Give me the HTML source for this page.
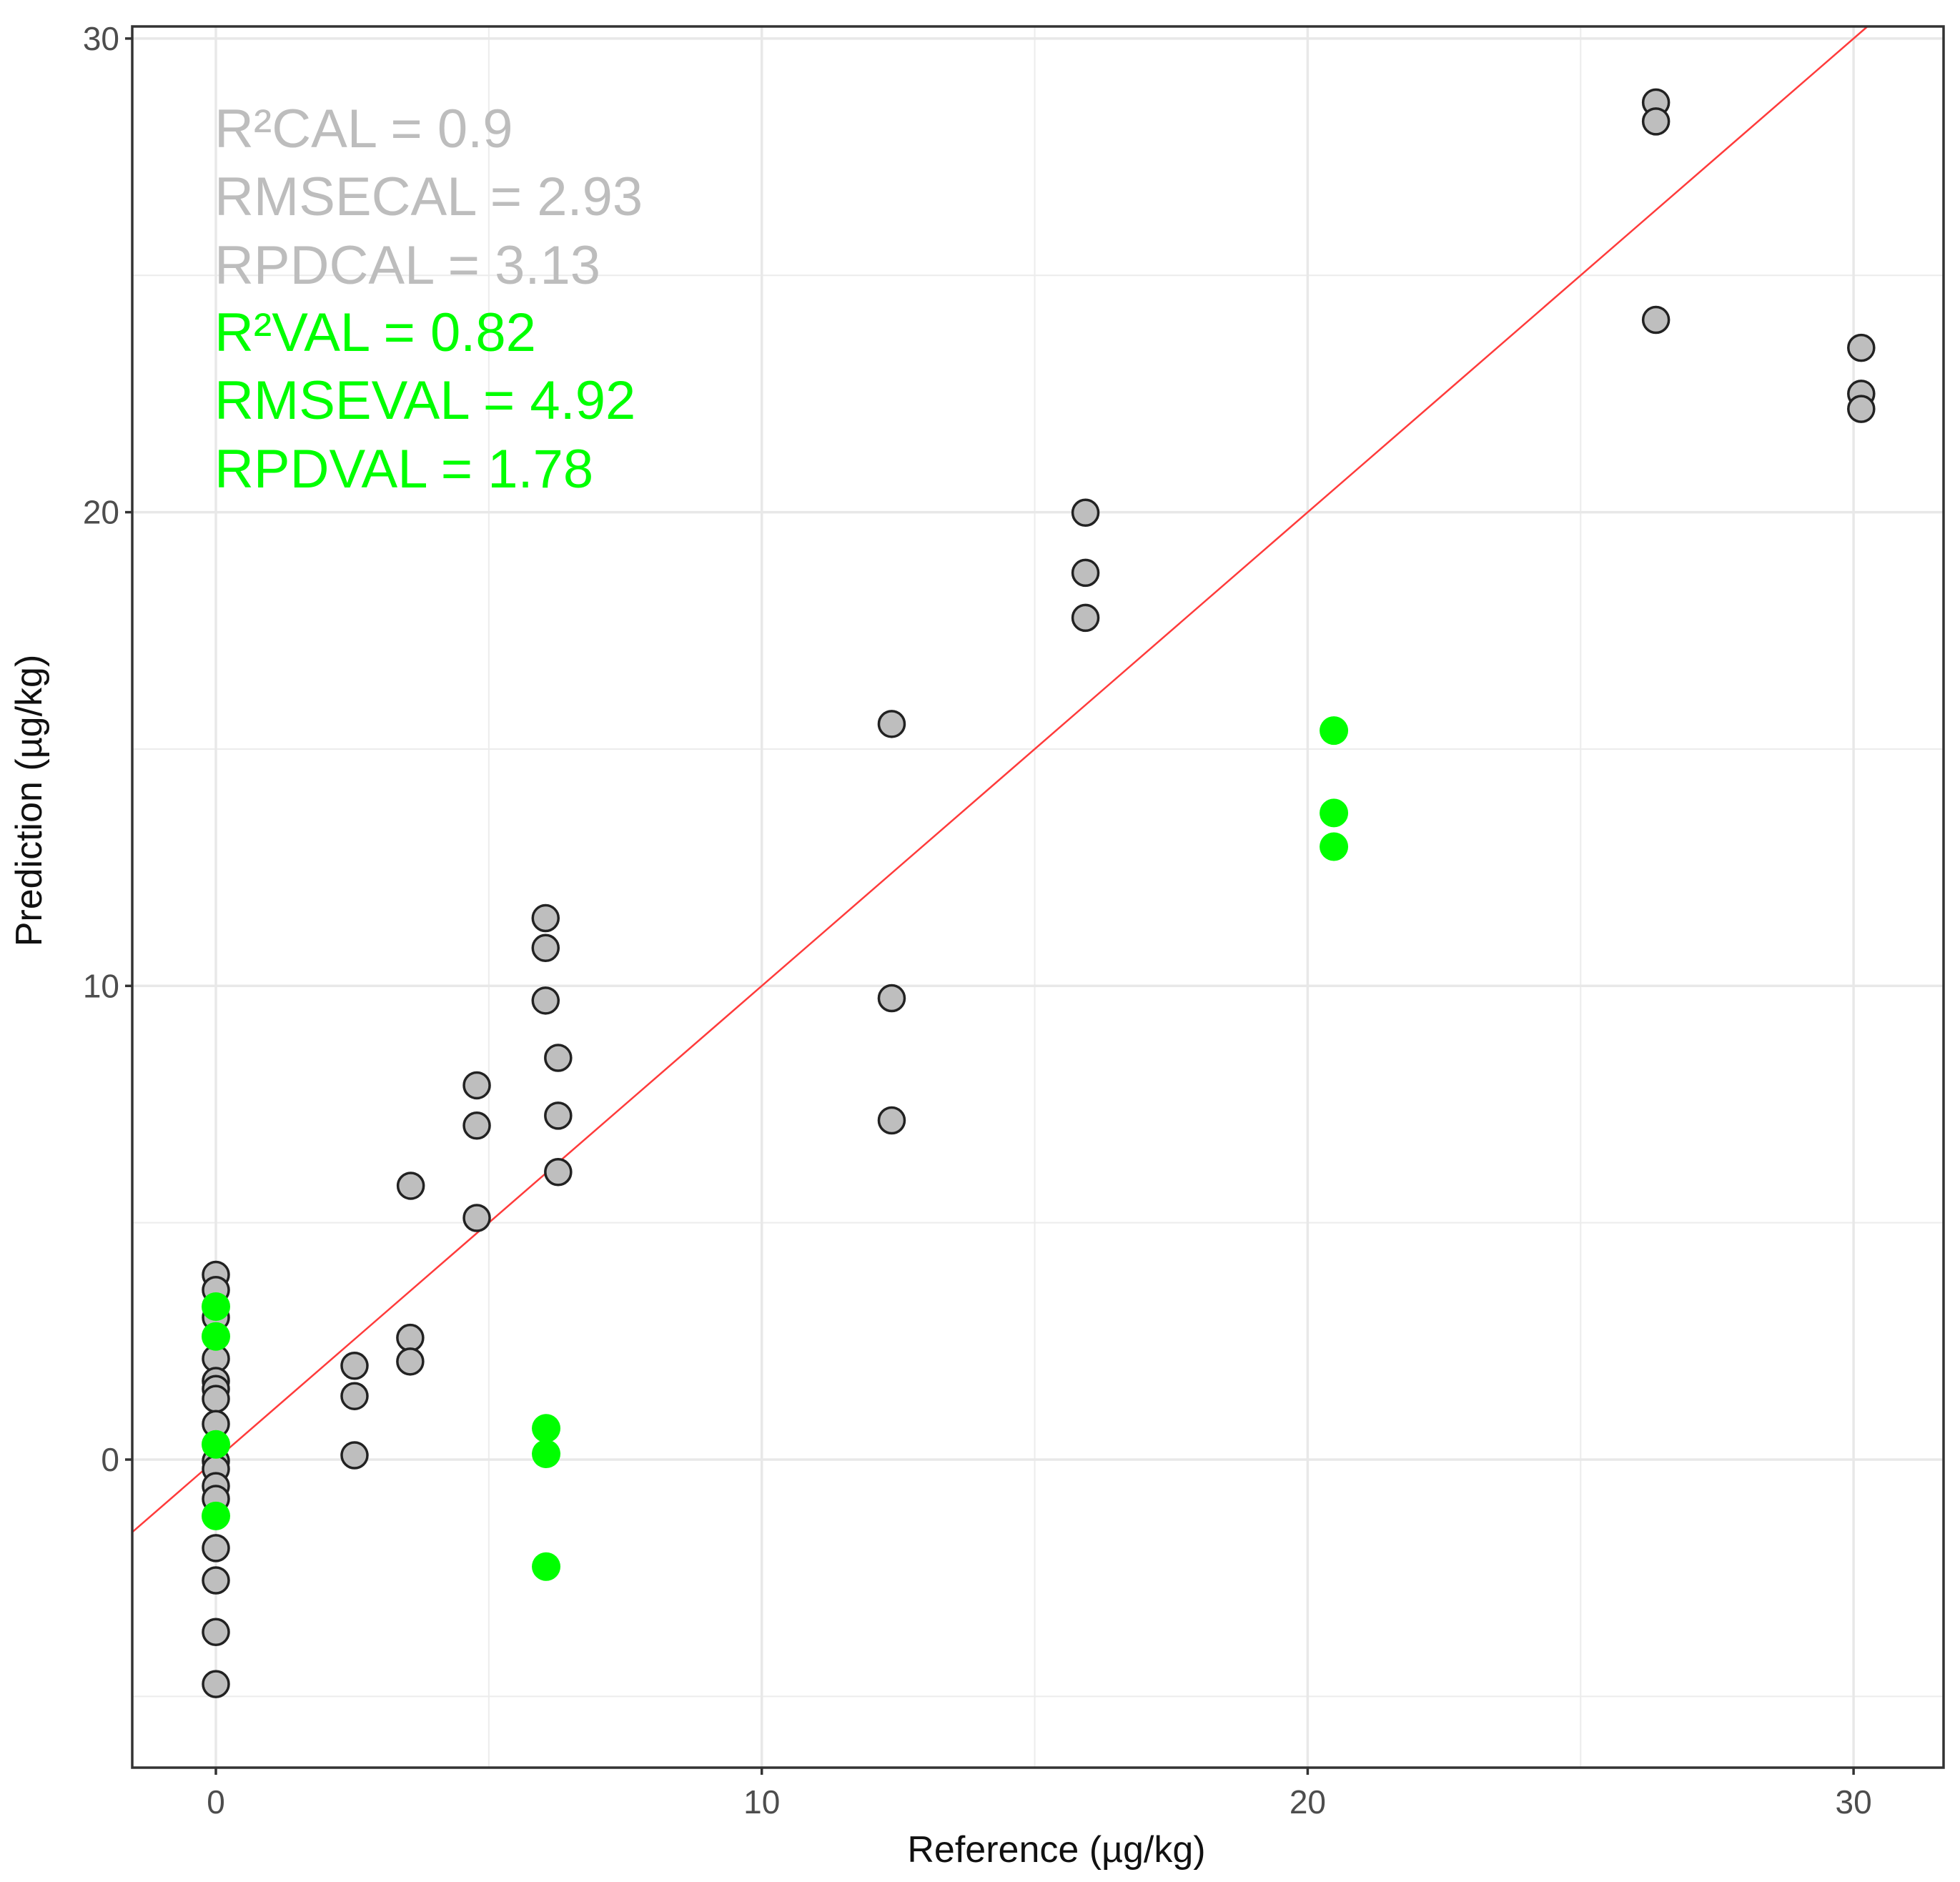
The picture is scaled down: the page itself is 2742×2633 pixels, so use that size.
<!DOCTYPE html>
<html><head><meta charset="utf-8"><style>
html,body{margin:0;padding:0;background:#fff}
svg{display:block}
text{font-family:"Liberation Sans",sans-serif}
</style></head><body>
<svg id="chart" width="2742" height="2633" viewBox="0 0 2742 2633" xmlns="http://www.w3.org/2000/svg">
<rect width="2742" height="2633" fill="#fff"/>
<g id="grid"></g>
<line id="refline" stroke="#ff3b3b" stroke-width="2.5"/>
<g id="pts"></g>
<rect x="185" y="37" width="2534" height="2436" fill="none" stroke="#333" stroke-width="3.5"/>
<g id="ticks"></g>
<g font-size="76">
<text x="300" y="206" fill="#bdbdbd">R²CAL = 0.9</text>
<text x="300" y="301" fill="#bdbdbd">RMSECAL = 2.93</text>
<text x="300" y="397" fill="#bdbdbd">RPDCAL = 3.13</text>
<text x="300" y="491" fill="#00ff00">R²VAL = 0.82</text>
<text x="300" y="586" fill="#00ff00">RMSEVAL = 4.92</text>
<text x="300" y="682" fill="#00ff00">RPDVAL = 1.78</text>
</g>
<text x="1478" y="2605" font-size="52" text-anchor="middle" fill="#111">Reference (µg/kg)</text>
<text x="58" y="1120" font-size="52" text-anchor="middle" fill="#111" transform="rotate(-90 58 1120)">Prediction (µg/kg)</text>
</svg>
<script>
const calX = [0,0,0,0,0,0,0,0,0,0,0,0,0,0,0,0, 2.54,2.54,2.54, 3.56,3.56,3.57, 4.78,4.78,4.78, 6.04,6.04,6.04,6.27,6.27,6.27, 12.38,12.38,12.38, 15.93,15.93,15.93, 26.38,26.38,26.38, 30.14,30.14,30.14];
const calY = [3.9,3.58,3.0,2.13,1.66,1.49,1.28,0.75,-0.03,-0.2,-0.56,-0.83,-1.87,-2.55,-3.64,-4.74, 1.98,1.34,0.09, 2.57,2.07,5.78, 7.9,7.05,5.1, 11.43,10.8,9.69,8.48,7.26,6.07, 15.53,9.74,7.16, 19.99,18.72,17.77, 28.65,28.25,24.06, 23.47,22.5,22.18];
const valX = [0,0,0,0, 6.05,6.05,6.05, 20.48,20.48,20.48];
const valY = [3.23,2.6,0.32,-1.19, 0.66,0.12,-2.26, 15.39,13.65,12.94];
const majorTicks = [0,10,20,30];
const minorTicks = [-5,5,15,25];
const tickLabels = ["0","10","20","30"];

const L=185,R=2719,T=37,B=2473;
const sx = v => 302 + v*76.37;
const sy = v => 2042 - v*66.27;
const NS="http://www.w3.org/2000/svg";
function mk(tag, attrs, parent){const e=document.createElementNS(NS,tag);for(const k in attrs)e.setAttribute(k,attrs[k]);parent.appendChild(e);return e;}
const grid=document.getElementById('grid');
minorTicks.forEach(t=>{
  const x=sx(t), y=sy(t);
  if(x>L&&x<R){const l=mk('line',{x1:x,x2:x,y1:T,y2:B,stroke:'#ececec','stroke-width':2},grid);
  
  }
  if(y>T&&y<B){const l=mk('line',{x1:L,x2:R,y1:y,y2:y,stroke:'#ececec','stroke-width':2},grid);
  
  }
});
majorTicks.forEach(t=>{
  const x=sx(t), y=sy(t);
  const a=mk('line',{x1:x,x2:x,y1:T,y2:B,stroke:'#e8e8e8','stroke-width':3.5},grid);
  
  
  const b=mk('line',{x1:L,x2:R,y1:y,y2:y,stroke:'#e8e8e8','stroke-width':3.5},grid);
  
  
});
const ticks=document.getElementById('ticks');
majorTicks.forEach((t,i)=>{
  const x=sx(t), y=sy(t);
  const a=mk('line',{x1:x,x2:x,y1:B,y2:B+10,stroke:'#333','stroke-width':3.5},ticks);
  
  
  const b=mk('line',{x1:L-10,x2:L,y1:y,y2:y,stroke:'#333','stroke-width':3.5},ticks);
  
  
  const tx=mk('text',{x:x,y:B+64,'font-size':46,'text-anchor':'middle',fill:'#4d4d4d'},ticks);
  tx.textContent=tickLabels[i];
  
  
  const ty=mk('text',{x:L-18,y:y+16,'font-size':46,'text-anchor':'end',fill:'#4d4d4d'},ticks);
  ty.textContent=tickLabels[i];
  
  
});
const rl=document.getElementById('refline');
const x0=(L-302)/76.37, x1=(2042-T)/66.27;
rl.setAttribute('x1',sx(x0));rl.setAttribute('y1',sy(x0));
rl.setAttribute('x2',sx(x1));rl.setAttribute('y2',sy(x1));
const pts=document.getElementById('pts');
calX.forEach((v,i)=>{
  const c=mk('circle',{cx:sx(v),cy:sy(calY[i]),r:18,fill:'#bebebe',stroke:'#222','stroke-width':3.5},pts);
  
  
});
valX.forEach((v,i)=>{
  const c=mk('circle',{cx:sx(v),cy:sy(valY[i]),r:20,fill:'#00ff00'},pts);
  
  
});
</script>
</body></html>
